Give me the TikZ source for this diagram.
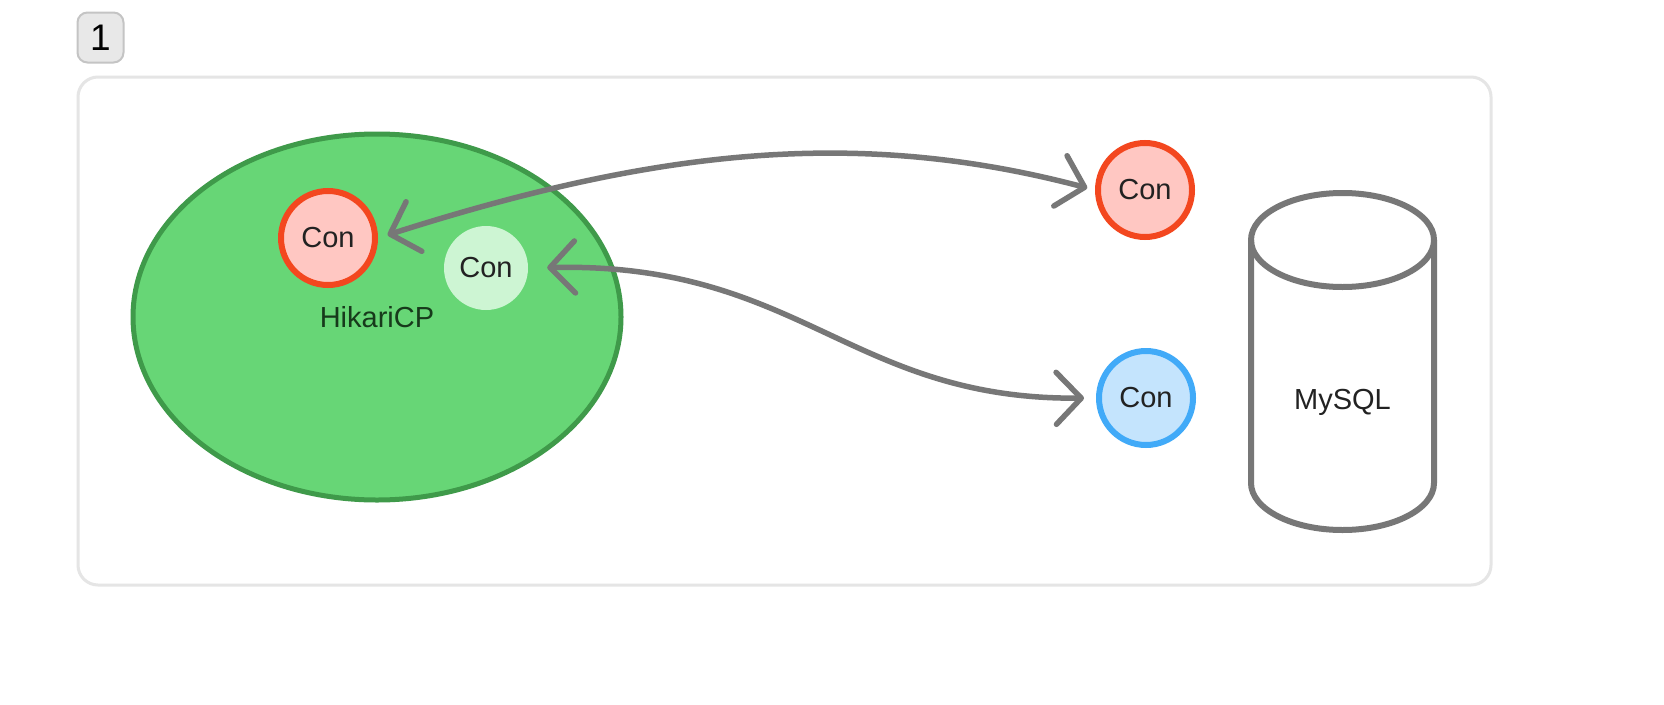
\documentclass[tikz,border=0pt]{standalone}
\usepackage{fontspec}
\setmainfont{Liberation Sans}
\usetikzlibrary{arrows.meta,shapes.geometric}
\definecolor{conredfill}{HTML}{FFC7C2}
\definecolor{conredline}{HTML}{F3471F}
\definecolor{congreen}{HTML}{CDF5D3}
\definecolor{conbluefill}{HTML}{C4E4FD}
\definecolor{conblueline}{HTML}{41AAF8}
\definecolor{poolfill}{HTML}{67D676}
\definecolor{poolline}{HTML}{3F9A4A}
\definecolor{arrowgray}{HTML}{777777}
\definecolor{framegray}{HTML}{E5E5E5}
\definecolor{badgefill}{HTML}{E8E8E8}
\definecolor{badgeline}{HTML}{C4C4C4}
\definecolor{textdark}{HTML}{222222}
\definecolor{pooltext}{HTML}{173A1B}
\tikzset{
  txt/.style={font=\fontsize{29}{34}\selectfont, text=textdark},
  conbase/.style={circle, inner sep=0pt, txt},
  conred/.style={conbase, fill=conredfill, draw=conredline, line width=6pt, minimum size=94pt},
  conblue/.style={conbase, fill=conbluefill, draw=conblueline, line width=6pt, minimum size=94pt},
  congr/.style={conbase, fill=congreen, minimum size=84pt},
  conn/.style={draw=arrowgray, line width=5.5pt, line cap=round, line join=round,
    {Straight Barb[length=25pt,width=52pt,line cap=round,line join=round]}-{Straight Barb[length=25pt,width=52pt,line cap=round,line join=round]}},
  badge/.style={draw=badgeline, fill=badgefill, line width=2pt, rounded corners=10pt,
    minimum width=46pt, minimum height=50pt, inner sep=0pt, font=\fontsize{37}{42}\selectfont, text=black},
  pool/.style={ellipse, fill=poolfill, draw=poolline, line width=5pt, minimum width=488pt, minimum height=366pt,
    inner sep=0pt, font=\fontsize{29}{34}\selectfont, text=pooltext},
  dbline/.style={draw=arrowgray, line width=6pt, line join=round}
}
\begin{document}
\begin{tikzpicture}[x=1pt,y=-1pt]
\useasboundingbox (0,0) rectangle (1664,704);
\fill[white] (0,0) rectangle (1664,704);
% badge and frame
\node[badge] (badge) at (100.5,37.5) {1};
\draw[draw=framegray, line width=3pt, rounded corners=20pt] (78,77) rectangle (1491,585);
% pool
\node[pool] (pool) at (377,317) {HikariCP};
\node[conred] (c1) at (328,238) {Con};
\node[congr] (c2) at (486,268) {Con};
% right connections
\node[conred] (c3) at (1145,190) {Con};
\node[conblue] (c4) at (1146,398) {Con};
% database
\fill[white] (1251,240) -- (1251,483) arc[start angle=180, end angle=360, x radius=91.5, y radius=-47] -- (1434,240) -- cycle;
\draw[dbline] (1342.5,240) ellipse [x radius=91.5, y radius=47];
\draw[dbline] (1251,240) -- (1251,483) arc[start angle=180, end angle=360, x radius=91.5, y radius=-47] -- (1434,240);
\node[txt] (db) at (1342.5,402) {MySQL};
% connectors
\draw[conn, shorten <=8pt, shorten >=10pt] (c3.west) .. controls (860,128) and (660,148) .. (c1.east);
\draw[conn, shorten <=19pt, shorten >=12pt] (c2.east) .. controls (800,262) and (850,400) .. (c4.west);
\end{tikzpicture}
\end{document}
